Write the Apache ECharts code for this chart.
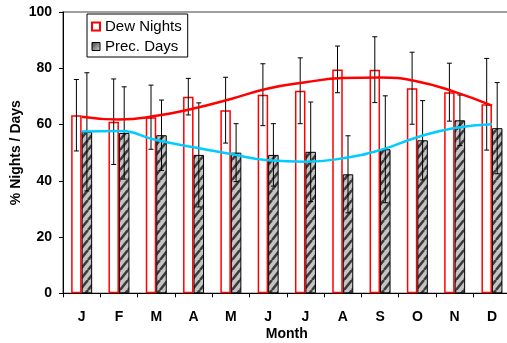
<!DOCTYPE html>
<html>
<head>
<meta charset="utf-8">
<script src="https://cdn.jsdelivr.net/npm/echarts@6/dist/echarts.min.js"></script>
<style>
  html, body { margin: 0; padding: 0; background: #fff; }
  #chart { width: 507px; height: 343px; }
</style>
</head>
<body>
<div id="chart"></div>
<script>
// Monthly dew nights vs. precipitation days (%), with ±1 SD bars and trend curves
const months = ['J', 'F', 'M', 'A', 'M', 'J', 'J', 'A', 'S', 'O', 'N', 'D'];
const dewNights = [63.3, 61.0, 62.6, 69.9, 65.1, 70.6, 72.0, 79.6, 79.5, 72.9, 71.5, 67.2];
const dewNightsSd = [12.7, 15.2, 11.4, 6.5, 11.7, 11.0, 11.7, 8.3, 11.7, 12.8, 10.3, 16.3];
const precDays = [57.4, 57.0, 56.2, 49.2, 50.0, 49.2, 50.3, 42.3, 51.2, 54.4, 61.5, 58.7];
const precDaysSd = [21.0, 16.4, 12.5, 18.5, 10.3, 11.1, 17.7, 13.7, 19.0, 14.1, 9.0, 16.2];
const dewTrend = [62.8, 61.8, 63.1, 65.7, 69.1, 72.8, 75.0, 76.5, 76.7, 75.3, 71.6, 66.7];
const precTrend = [57.5, 57.7, 54.5, 51.9, 49.5, 47.3, 46.8, 48.0, 50.9, 55.5, 58.8, 60.1];
const yTicks = { min: 0, max: 100, interval: 20 };

const FONT = 'Liberation Sans, Arial, sans-serif';
const BAR_W = 10.5;

// diagonal hatch fill for the precipitation columns
function hatchPattern() {
  const c = document.createElement('canvas');
  c.width = 8; c.height = 10;
  const g = c.getContext('2d');
  g.fillStyle = '#c4c4c4';
  g.fillRect(0, 0, 8, 10);
  g.strokeStyle = '#3c3c3c';
  g.lineWidth = 2.6;
  [-8, 0, 8].forEach(function (dx) {
    g.beginPath();
    g.moveTo(dx, 10);
    g.lineTo(dx + 8, 0);
    g.stroke();
  });
  return c;
}

// error bars: vertical whisker with caps, shifted onto its column
function errorBars(offset) {
  return function (params, api) {
    const i = api.value(0);
    const lo = api.coord([i, api.value(1)]);
    const hi = api.coord([i, api.value(2)]);
    const x = lo[0] + offset;
    const cap = 2.5;
    const style = { stroke: '#000', lineWidth: 1 };
    return {
      type: 'group',
      children: [
        { type: 'line', shape: { x1: x, y1: hi[1], x2: x, y2: lo[1] }, style: style },
        { type: 'line', shape: { x1: x - cap, y1: hi[1], x2: x + cap, y2: hi[1] }, style: style },
        { type: 'line', shape: { x1: x - cap, y1: lo[1], x2: x + cap, y2: lo[1] }, style: style }
      ]
    };
  };
}

const dewErrData = dewNights.map(function (v, i) { return [i, v - dewNightsSd[i], v + dewNightsSd[i]]; });
const precErrData = precDays.map(function (v, i) { return [i, v - precDaysSd[i], v + precDaysSd[i]]; });

const chart = echarts.init(document.getElementById('chart'), null, { renderer: 'canvas' });

chart.setOption({
  animation: false,
  textStyle: { fontFamily: FONT },
  grid: {
    left: 63, top: 12, width: 447.6, height: 281.3,
    containLabel: false,
    outerBoundsMode: 'none',
    show: true, borderColor: '#808080', borderWidth: 1.5, backgroundColor: 'transparent'
  },
  legend: {
    orient: 'vertical',
    left: 87, top: 14,
    padding: [5, 6, 3, 4],
    itemWidth: 8, itemHeight: 8, itemGap: 5,
    backgroundColor: '#fff',
    borderColor: '#000', borderWidth: 1, borderRadius: 0,
    textStyle: { fontSize: 15, color: '#000', lineHeight: 15, fontFamily: FONT },
    data: [
      { name: 'Dew Nights', icon: 'rect' },
      {
        name: 'Prec. Days', icon: 'rect',
        itemStyle: {
          color: new echarts.graphic.LinearGradient(0, 0, 1, 1, [
            { offset: 0, color: '#3a3a3a' }, { offset: 1, color: '#d8d8d8' }
          ]),
          borderColor: '#000', borderWidth: 1
        }
      }
    ]
  },
  xAxis: {
    type: 'category',
    data: months,
    boundaryGap: true,
    name: 'Month',
    nameLocation: 'middle',
    nameGap: 34,
    nameMoveOverlap: false,
    nameTextStyle: { fontSize: 14, fontWeight: 'bold', color: '#000', fontFamily: FONT },
    axisLine: { lineStyle: { color: '#000', width: 1 } },
    axisTick: { show: true, length: 4, alignWithLabel: false, lineStyle: { color: '#000' } },
    axisLabel: { margin: 17, fontSize: 14, fontWeight: 'bold', color: '#000', fontFamily: FONT, interval: 0 },
    splitLine: { show: false }
  },
  yAxis: {
    type: 'value',
    min: yTicks.min, max: yTicks.max, interval: yTicks.interval,
    name: '% Nights / Days',
    nameLocation: 'middle',
    nameGap: 40,
    nameMoveOverlap: false,
    nameTextStyle: { fontSize: 14, fontWeight: 'bold', color: '#000', fontFamily: FONT },
    axisLine: { show: true, lineStyle: { color: '#000', width: 1 } },
    axisTick: { show: true, length: 4, lineStyle: { color: '#000' } },
    axisLabel: { margin: 11, fontSize: 14, fontWeight: 'bold', color: '#000', fontFamily: FONT },
    splitLine: { show: false }
  },
  series: [
    {
      name: 'Dew Nights',
      type: 'bar',
      data: dewNights,
      barWidth: BAR_W,
      barGap: '0%',
      itemStyle: { color: '#fff', borderColor: '#ff0000', borderWidth: 1.5 },
      z: 2
    },
    {
      name: 'Prec. Days',
      type: 'bar',
      data: precDays,
      barWidth: BAR_W,
      barGap: '0%',
      itemStyle: { color: { image: hatchPattern(), repeat: 'repeat' }, borderColor: '#000', borderWidth: 1 },
      z: 2
    },
    {
      name: 'Dew Nights SD',
      type: 'custom',
      data: dewErrData,
      encode: { x: 0, y: [1, 2] },
      renderItem: errorBars(-BAR_W / 2),
      z: 3,
      silent: true
    },
    {
      name: 'Prec. Days SD',
      type: 'custom',
      data: precErrData,
      encode: { x: 0, y: [1, 2] },
      renderItem: errorBars(BAR_W / 2),
      z: 3,
      silent: true
    },
    {
      name: 'Dew trend',
      type: 'line',
      data: dewTrend,
      smooth: true,
      symbol: 'none',
      lineStyle: { color: '#ff0000', width: 2.5 },
      z: 4
    },
    {
      name: 'Prec trend',
      type: 'line',
      data: precTrend,
      smooth: true,
      symbol: 'none',
      lineStyle: { color: '#00ccff', width: 2.5 },
      z: 4
    }
  ]
});
</script>
</body>
</html>
